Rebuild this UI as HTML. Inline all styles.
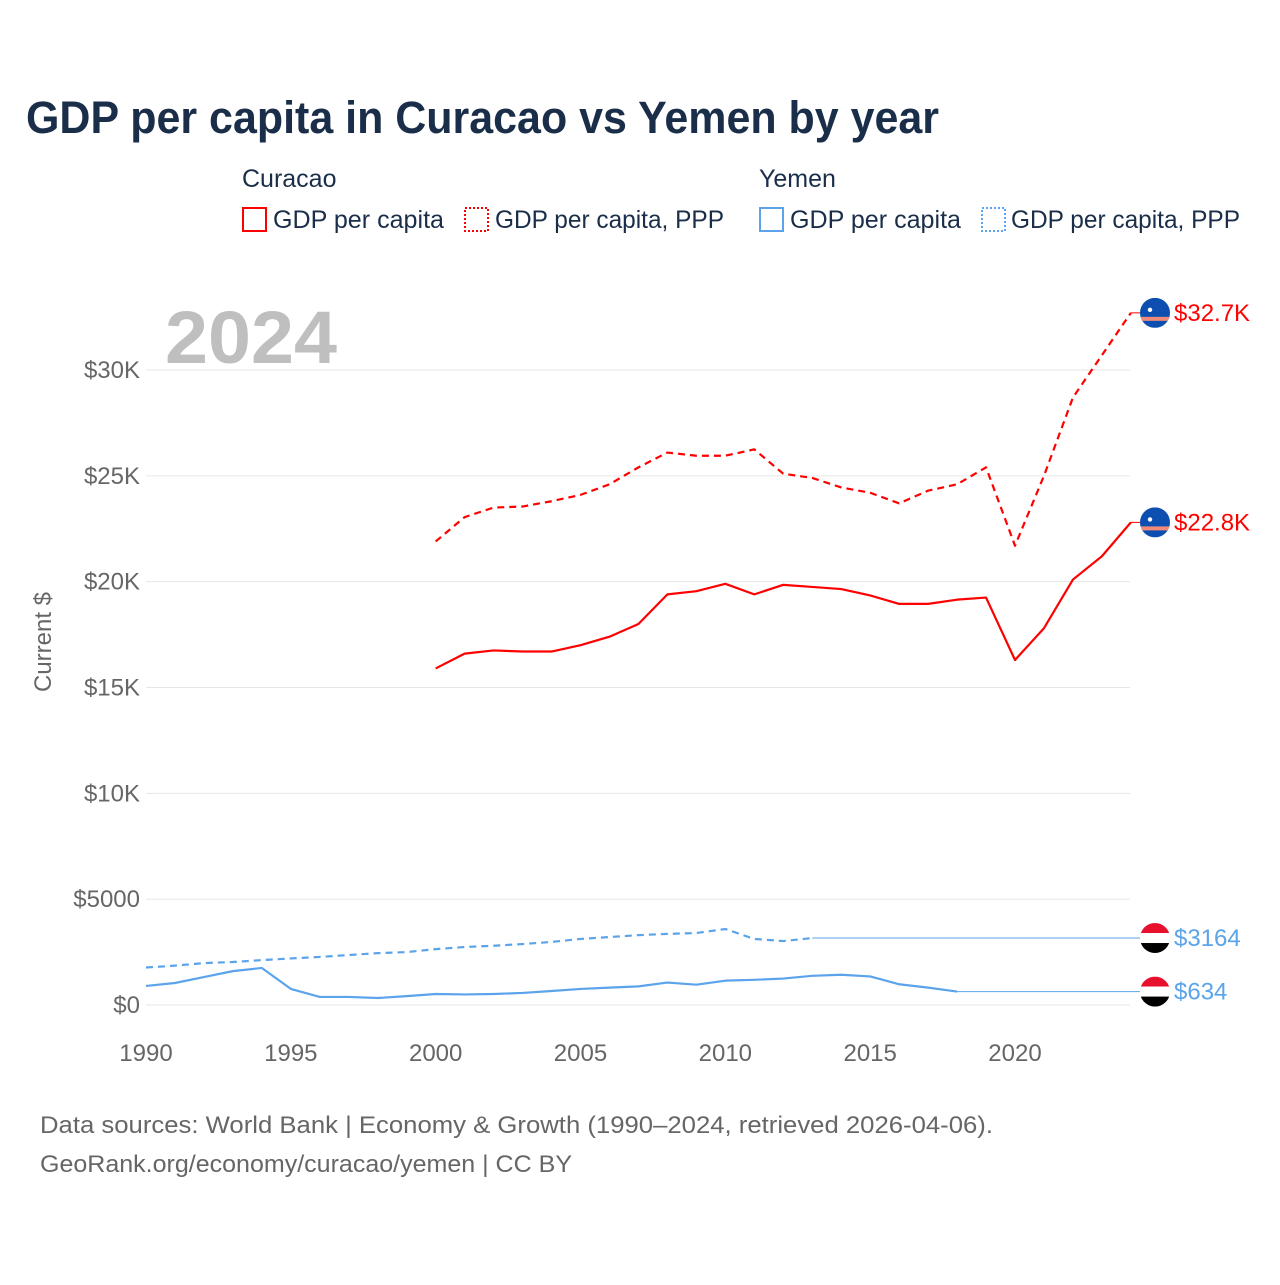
<!DOCTYPE html>
<html><head><meta charset="utf-8"><style>
body{margin:0;background:#fff;font-family:"Liberation Sans",sans-serif}
</style></head><body>
<svg width="1280" height="1280" viewBox="0 0 1280 1280" xmlns="http://www.w3.org/2000/svg">
<rect width="1280" height="1280" fill="#fff"/>
<text x="26" y="133" font-size="45" font-weight="bold" fill="#1a2e4a" textLength="913" lengthAdjust="spacingAndGlyphs">GDP per capita in Curacao vs Yemen by year</text>
<g font-size="25" fill="#1a2e4a">
<text x="242" y="187">Curacao</text>
<text x="759" y="187">Yemen</text>
<g><rect x="243" y="208" width="23" height="23" fill="none" stroke="#f00" stroke-width="2"/><text x="273" y="228" textLength="171" lengthAdjust="spacingAndGlyphs">GDP per capita</text></g>
<g><rect x="465" y="208" width="23" height="23" fill="none" stroke="#f00" stroke-width="2" stroke-dasharray="2,2"/><text x="495" y="228" textLength="229" lengthAdjust="spacingAndGlyphs">GDP per capita, PPP</text></g>
<g><rect x="760" y="208" width="23" height="23" fill="none" stroke="#5ba3ea" stroke-width="2"/><text x="790" y="228" textLength="171" lengthAdjust="spacingAndGlyphs">GDP per capita</text></g>
<g><rect x="982" y="208" width="23" height="23" fill="none" stroke="#5ba3ea" stroke-width="2" stroke-dasharray="2,2"/><text x="1011" y="228" textLength="229" lengthAdjust="spacingAndGlyphs">GDP per capita, PPP</text></g>
</g>
<text x="165" y="363" font-size="74" font-weight="bold" fill="#bfbfbf" textLength="172" lengthAdjust="spacingAndGlyphs">2024</text>
<text transform="translate(51,642) rotate(-90)" text-anchor="middle" font-size="24" fill="#666">Current $</text>
<g id="grid"></g><g id="series"></g><g id="ends"></g>
<text x="40" y="1133" font-size="24" fill="#666" textLength="953" lengthAdjust="spacingAndGlyphs">Data sources: World Bank | Economy &amp; Growth (1990–2024, retrieved 2026-04-06).</text>
<text x="40" y="1172" font-size="24" fill="#666" textLength="532" lengthAdjust="spacingAndGlyphs">GeoRank.org/economy/curacao/yemen | CC BY</text>
</svg>
<script>
const yTicks=[0,5000,10000,15000,20000,25000,30000];
const yTickLabels=["$0","$5000","$10K","$15K","$20K","$25K","$30K"];
const xTicks=[1990,1995,2000,2005,2010,2015,2020];
const curYears=[2000,2001,2002,2003,2004,2005,2006,2007,2008,2009,2010,2011,2012,2013,2014,2015,2016,2017,2018,2019,2020,2021,2022,2023,2024];
const curGdp=[15900,16600,16750,16700,16700,17000,17400,18000,19400,19550,19900,19400,19850,19750,19650,19350,18950,18950,19150,19250,16300,17800,20100,21200,22800];
const curPpp=[21900,23050,23500,23550,23800,24100,24600,25400,26100,25950,25950,26250,25100,24900,24450,24200,23700,24300,24600,25400,21700,25000,28700,30700,32700];
const yemGdpYears=[1990,1991,1992,1993,1994,1995,1996,1997,1998,1999,2000,2001,2002,2003,2004,2005,2006,2007,2008,2009,2010,2011,2012,2013,2014,2015,2016,2017,2018];
const yemGdp=[900,1040,1320,1600,1750,760,380,380,330,420,520,500,520,570,660,760,820,880,1060,960,1150,1190,1250,1380,1430,1350,980,820,634];
const yemPppYears=[1990,1991,1992,1993,1994,1995,1996,1997,1998,1999,2000,2001,2002,2003,2004,2005,2006,2007,2008,2009,2010,2011,2012,2013];
const yemPpp=[1770,1860,1980,2030,2120,2200,2270,2360,2450,2500,2640,2740,2800,2880,2980,3120,3210,3300,3360,3400,3590,3120,3020,3164];
const endLabels=["$32.7K","$22.8K","$3164","$634"];
const NS="http://www.w3.org/2000/svg";
const X=yr=>146+(yr-1990)*(1015-146)/30;
const Y=v=>1005-v*635/30000;
function mk(tag,attrs,parent){const e=document.createElementNS(NS,tag);for(const k in attrs)e.setAttribute(k,attrs[k]);parent.appendChild(e);return e;}
const grid=document.getElementById('grid');
yTicks.forEach((t,i)=>{
 const l=mk('line',{x1:146,x2:1130,y1:Y(t),y2:Y(t),stroke:'#e6e6e6','stroke-width':1},grid);
 
 
 const tx=mk('text',{x:140,y:Y(t)+8,'text-anchor':'end','font-size':24,fill:'#666'},grid);
 tx.textContent=yTickLabels[i];
 
 
});
xTicks.forEach(t=>{
 const tx=mk('text',{x:X(t),y:1061,'text-anchor':'middle','font-size':24,fill:'#666'},grid);
 tx.textContent=t;
 
 
});
const S=document.getElementById('series');
function line(xs,vs,color,dash,name){
 const p=mk('polyline',{points:xs.map((x,i)=>X(x)+','+Y(vs[i])).join(' '),fill:'none',stroke:color,'stroke-width':2.2,'stroke-dasharray':dash||'none','stroke-linejoin':'round'},S);
 
 
}
function ext(x0,v,color,name){
 const p=mk('line',{x1:X(x0),x2:1140,y1:Y(v),y2:Y(v),stroke:color,'stroke-width':1},S);
 
 
}
line(curYears,curPpp,'#f00','7,5','curacao-ppp-line');
line(curYears,curGdp,'#f00',null,'curacao-gdp-line');
line(yemPppYears,yemPpp,'#5ba3ea','7,5','yemen-ppp-line');
line(yemGdpYears,yemGdp,'#5ba3ea',null,'yemen-gdp-line');
ext(2024,curPpp[curPpp.length-1],'#f00','curacao-ppp-extension');
ext(2024,curGdp[curGdp.length-1],'#f00','curacao-gdp-extension');
ext(yemPppYears[yemPppYears.length-1],yemPpp[yemPpp.length-1],'#5ba3ea','yemen-ppp-extension');
ext(yemGdpYears[yemGdpYears.length-1],yemGdp[yemGdp.length-1],'#5ba3ea','yemen-gdp-extension');
const E=document.getElementById('ends');
const endVals=[curPpp[curPpp.length-1],curGdp[curGdp.length-1],yemPpp[yemPpp.length-1],yemGdp[yemGdp.length-1]];
endVals.forEach((v,i)=>{
 const y=Y(v),cx=1155,cur=i<2;
 const g=mk('g',{},E);
 
 
 const cid='c'+i;
 const cp=mk('clipPath',{id:cid},g);mk('circle',{cx:cx,cy:y,r:15},cp);
 const f=mk('g',{'clip-path':'url(#'+cid+')'},g);
 if(cur){
  mk('rect',{x:cx-15,y:y-15,width:30,height:30,fill:'#0c4fb0'},f);
  mk('rect',{x:cx-15,y:y+4,width:30,height:4,fill:'#f28a7a'},f);
  mk('circle',{cx:cx-5,cy:y-3,r:2.2,fill:'#fff'},f);
 }else{
  mk('rect',{x:cx-15,y:y-15,width:30,height:10,fill:'#e8112d'},f);
  mk('rect',{x:cx-15,y:y-5,width:30,height:10,fill:'#fff'},f);
  mk('rect',{x:cx-15,y:y+5,width:30,height:10,fill:'#000'},f);
 }
 const t=mk('text',{x:1174,y:y+8,'font-size':24,fill:cur?'#f00':'#5ba3ea'},E);
 t.textContent=endLabels[i];
 
 
});
</script>
</body></html>
